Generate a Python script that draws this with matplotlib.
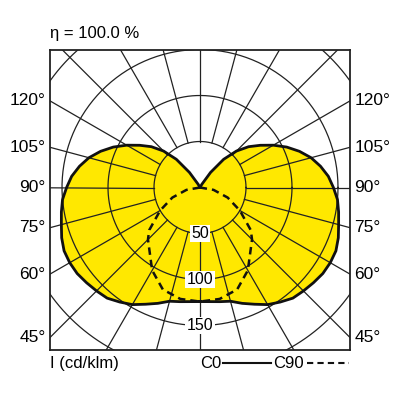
import matplotlib
matplotlib.use("Agg")
import matplotlib.pyplot as plt
import numpy as np

plt.rcParams['font.family'] = ['Liberation Sans Narrow', 'Liberation Sans', 'DejaVu Sans']

# luminous intensity, cd/klm, gamma measured from nadir
gamma_c0 = [0, 10, 15, 20, 25, 30, 35, 40, 45, 50, 55, 60, 65, 70, 75, 80, 85, 90,
            95, 100, 105, 110, 115, 120, 125, 130, 135, 140, 145, 150, 155, 160, 170, 180]
i_c0 = [124, 126, 128, 134, 140, 147, 152, 157, 159, 161, 163, 163.5, 163, 160, 156, 153, 150, 145,
        140, 133, 125, 115, 104, 92, 80, 69, 56, 40, 20, 4, 0, 0, 0, 0]

gamma_c90 = [0, 10, 20, 30, 40, 45, 50, 60, 70, 80, 90]
i_c90 = [124, 123, 118, 104, 86, 80, 72, 50, 32, 15, 0]

rings = [50, 100, 150, 200, 250]
ring_labels = ["50", "100", "150"]
angle_labels = [45, 60, 75, 90, 105, 120]
efficiency = "η = 100.0 %"

s = 0.92  # px per cd/klm
fig = plt.figure(figsize=(4, 4), dpi=100)
ax = fig.add_axes([0.125, 0.125, 0.75, 0.75])
xmax = 150 / s
ax.set_xlim(-xmax, xmax)
ax.set_ylim(-(350 - 187.5) / s, (187.5 - 50) / s)
ax.set_xticks([])
ax.set_yticks([])
for sp in ax.spines.values():
    sp.set_linewidth(1.3)
    sp.set_color("#222222")


def side(g, i, sign):
    g = np.radians(g)
    i = np.asarray(i, float)
    return sign * i * np.sin(g), -i * np.cos(g)


# C0 curve (both halves)
xl, yl = side(gamma_c0, i_c0, -1)
xr, yr = side(gamma_c0, i_c0, 1)
x0 = np.concatenate([xl, xr[::-1]])
y0 = np.concatenate([yl, yr[::-1]])
ax.fill(x0, y0, color="#ffe800", zorder=1, lw=0)

# grid
t = np.linspace(0, 2 * np.pi, 400)
for r in rings:
    ax.plot(r * np.cos(t), r * np.sin(t), color="#222222", lw=0.9, zorder=2)
for a in range(0, 360, 15):
    ar = np.radians(a)
    ax.plot([50 * np.sin(ar), 400 * np.sin(ar)], [-50 * np.cos(ar), -400 * np.cos(ar)],
            color="#222222", lw=0.9, zorder=2)

ax.plot(x0, y0, color="#111111", lw=2.0, zorder=3)

# C90 curve
xl, yl = side(gamma_c90, i_c90, -1)
xr, yr = side(gamma_c90, i_c90, 1)
x9 = np.concatenate([xl[::-1], xr[1:]])
y9 = np.concatenate([yl[::-1], yr[1:]])
ax.plot(x9, y9, color="#111111", lw=1.8, ls=(0, (3, 2)), zorder=3)

for r, lab in zip(rings, ring_labels):
    ax.text(0, -r, lab, ha="center", va="center", fontsize=11.5, zorder=4,
            bbox=dict(facecolor="white", edgecolor="none", pad=1))

for a in angle_labels:
    ar = np.radians(a)
    y = -xmax * np.cos(ar) / np.sin(ar)
    ax.text(-xmax - 5, y, f"{a}°", ha="right", va="center", fontsize=12.5, clip_on=False)
    ax.text(xmax + 5, y, f"{a}°", ha="left", va="center", fontsize=12.5, clip_on=False)

ax.text(0, 1.055, efficiency, transform=ax.transAxes, ha="left", va="center", fontsize=12)
ax.text(0, -0.045, "I (cd/klm)", transform=ax.transAxes, ha="left", va="center", fontsize=12)
ax.text(0.5, -0.045, "C0", transform=ax.transAxes, ha="left", va="center", fontsize=12)
ax.plot([0.575, 0.735], [-0.043, -0.043], transform=ax.transAxes, color="#111111", lw=1.5, clip_on=False)
ax.text(0.745, -0.045, "C90", transform=ax.transAxes, ha="left", va="center", fontsize=12)
ax.plot([0.855, 0.995], [-0.043, -0.043], transform=ax.transAxes, color="#111111", lw=1.5,
        ls=(0, (3, 2)), clip_on=False)

fig.savefig("out.png", dpi=100, facecolor="white")
